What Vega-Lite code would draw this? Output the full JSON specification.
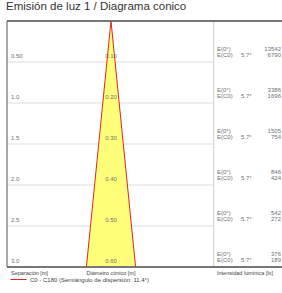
{
  "$schema": "https://vega.github.io/schema/vega-lite/v6.json",
  "width": 275,
  "height": 246,
  "autosize": {"type": "none"},
  "padding": {"left": 7, "top": 21, "right": 0, "bottom": 26},
  "background": "white",
  "title": {"text": "Emisión de luz 1 / Diagrama conico", "anchor": "start", "frame": "group", "offset": 7, "fontSize": 11.5, "fontWeight": "normal", "font": "Liberation Sans", "color": "#333333", "dx": -1},
  "config": {"view": {"stroke": null}, "text": {"font": "Liberation Sans"}},
  "datasets": {
    "rows": [
      {"d": 0.5, "dlabel": "0.50", "diam": "0.10", "e0": "13542", "ec0": "6790"},
      {"d": 1.0, "dlabel": "1.0", "diam": "0.20", "e0": "3386", "ec0": "1696"},
      {"d": 1.5, "dlabel": "1.5", "diam": "0.30", "e0": "1505", "ec0": "754"},
      {"d": 2.0, "dlabel": "2.0", "diam": "0.40", "e0": "846", "ec0": "424"},
      {"d": 2.5, "dlabel": "2.5", "diam": "0.50", "e0": "542", "ec0": "272"},
      {"d": 3.0, "dlabel": "3.0", "diam": "0.60", "e0": "376", "ec0": "189"}
    ],
    "cone": [
      {"d": 0, "xl": 0, "xr": 0},
      {"d": 3, "xl": -0.3, "xr": 0.3}
    ],
    "edges": [
      {"side": "izq", "d": 0, "x": 0},
      {"side": "izq", "d": 3, "x": -0.3},
      {"side": "der", "d": 0, "x": 0},
      {"side": "der", "d": 3, "x": 0.3}
    ]
  },
  "layer": [
    {
      "data": {"name": "rows"},
      "transform": [{"filter": "datum.d < 3"}],
      "mark": {"type": "rule", "color": "#dddddd", "strokeWidth": 1},
      "encoding": {
        "y": {"field": "d", "type": "quantitative", "axis": null, "scale": {"domain": [0, 3], "reverse": true, "nice": false, "zero": false}},
        "x": {"datum": -1.2683, "type": "quantitative", "axis": null, "scale": {"domain": [-1.2683, 2.0854], "nice": false, "zero": false}},
        "x2": {"datum": 1.2524}
      }
    },
    {
      "data": {"name": "cone"},
      "mark": {"type": "area", "orient": "horizontal", "color": "#ffff7a", "opacity": 1},
      "encoding": {
        "y": {"field": "d", "type": "quantitative", "axis": null, "scale": {"domain": [0, 3], "reverse": true, "nice": false, "zero": false}},
        "x": {"field": "xl", "type": "quantitative", "axis": null, "scale": {"domain": [-1.2683, 2.0854], "nice": false, "zero": false}},
        "x2": {"field": "xr"}
      }
    },
    {
      "data": {"values": [{"v": 1}]},
      "mark": {"type": "rule", "color": "#cccccc", "strokeWidth": 1},
      "encoding": {
        "x": {"datum": 1.2524, "type": "quantitative", "axis": null, "scale": {"domain": [-1.2683, 2.0854], "nice": false, "zero": false}},
        "y": {"datum": 0, "type": "quantitative", "axis": null, "scale": {"domain": [0, 3], "reverse": true, "nice": false, "zero": false}},
        "y2": {"datum": 3}
      }
    },
    {
      "data": {"values": [{"v": 1}]},
      "mark": {"type": "rule", "color": "#555555", "strokeWidth": 1},
      "encoding": {
        "x": {"datum": -1.2683, "type": "quantitative", "axis": null, "scale": {"domain": [-1.2683, 2.0854], "nice": false, "zero": false}},
        "y": {"datum": 0, "type": "quantitative", "axis": null, "scale": {"domain": [0, 3], "reverse": true, "nice": false, "zero": false}},
        "y2": {"datum": 3}
      }
    },
    {
      "data": {"values": [{"edge": 0}, {"edge": 3}]},
      "mark": {"type": "rule", "color": "#777777", "strokeWidth": 2},
      "encoding": {
        "y": {"field": "edge", "type": "quantitative", "axis": null, "scale": {"domain": [0, 3], "reverse": true, "nice": false, "zero": false}},
        "x": {"datum": -1.2683, "type": "quantitative", "axis": null, "scale": {"domain": [-1.2683, 2.0854], "nice": false, "zero": false}},
        "x2": {"datum": 2.0854}
      }
    },
    {
      "data": {"name": "edges"},
      "mark": {"type": "line", "strokeWidth": 1},
      "encoding": {
        "y": {"field": "d", "type": "quantitative", "axis": null, "scale": {"domain": [0, 3], "reverse": true, "nice": false, "zero": false}},
        "x": {"field": "x", "type": "quantitative", "axis": null, "scale": {"domain": [-1.2683, 2.0854], "nice": false, "zero": false}},
        "detail": {"field": "side"},
        "order": {"field": "d"},
        "color": {"datum": "C0 - C180 (Semiángulo de dispersión: 11.4°)", "scale": {"range": ["#e3261c"]},
          "legend": {"title": null, "orient": "none", "legendX": 3, "legendY": 250, "padding": 0, "symbolType": "stroke", "symbolSize": 256, "symbolStrokeWidth": 1, "labelFontSize": 6, "labelFont": "Liberation Sans", "labelColor": "#444444", "labelOffset": 3}}
      }
    },
    {
      "data": {"name": "rows"},
      "mark": {"type": "text", "align": "left", "baseline": "middle", "dy": -6, "fontSize": 6, "color": "#707070"},
      "encoding": {
        "y": {"field": "d", "type": "quantitative", "axis": null, "scale": {"domain": [0, 3], "reverse": true, "nice": false, "zero": false}},
        "x": {"datum": -1.2195, "type": "quantitative", "axis": null, "scale": {"domain": [-1.2683, 2.0854], "nice": false, "zero": false}},
        "text": {"field": "dlabel"}
      }
    },
    {
      "data": {"name": "rows"},
      "mark": {"type": "text", "align": "center", "baseline": "middle", "dy": -6, "fontSize": 6, "color": "#707070"},
      "encoding": {
        "y": {"field": "d", "type": "quantitative", "axis": null, "scale": {"domain": [0, 3], "reverse": true, "nice": false, "zero": false}},
        "x": {"datum": 0, "type": "quantitative", "axis": null, "scale": {"domain": [-1.2683, 2.0854], "nice": false, "zero": false}},
        "text": {"field": "diam"}
      }
    },
    {
      "data": {"name": "rows"},
      "mark": {"type": "text", "align": "left", "baseline": "middle", "dy": -13, "fontSize": 6, "color": "#707070"},
      "encoding": {
        "y": {"field": "d", "type": "quantitative", "axis": null, "scale": {"domain": [0, 3], "reverse": true, "nice": false, "zero": false}},
        "x": {"datum": 1.2927, "type": "quantitative", "axis": null, "scale": {"domain": [-1.2683, 2.0854], "nice": false, "zero": false}},
        "text": {"value": "E(0°)"}
      }
    },
    {
      "data": {"name": "rows"},
      "mark": {"type": "text", "align": "left", "baseline": "middle", "dy": -7, "fontSize": 6, "color": "#707070"},
      "encoding": {
        "y": {"field": "d", "type": "quantitative", "axis": null, "scale": {"domain": [0, 3], "reverse": true, "nice": false, "zero": false}},
        "x": {"datum": 1.2927, "type": "quantitative", "axis": null, "scale": {"domain": [-1.2683, 2.0854], "nice": false, "zero": false}},
        "text": {"value": "E(C0)"}
      }
    },
    {
      "data": {"name": "rows"},
      "mark": {"type": "text", "align": "left", "baseline": "middle", "dy": -7, "fontSize": 6, "color": "#707070"},
      "encoding": {
        "y": {"field": "d", "type": "quantitative", "axis": null, "scale": {"domain": [0, 3], "reverse": true, "nice": false, "zero": false}},
        "x": {"datum": 1.585, "type": "quantitative", "axis": null, "scale": {"domain": [-1.2683, 2.0854], "nice": false, "zero": false}},
        "text": {"value": "5.7°"}
      }
    },
    {
      "data": {"name": "rows"},
      "mark": {"type": "text", "align": "right", "baseline": "middle", "dy": -13, "fontSize": 6, "color": "#707070"},
      "encoding": {
        "y": {"field": "d", "type": "quantitative", "axis": null, "scale": {"domain": [0, 3], "reverse": true, "nice": false, "zero": false}},
        "x": {"datum": 2.073, "type": "quantitative", "axis": null, "scale": {"domain": [-1.2683, 2.0854], "nice": false, "zero": false}},
        "text": {"field": "e0"}
      }
    },
    {
      "data": {"name": "rows"},
      "mark": {"type": "text", "align": "right", "baseline": "middle", "dy": -7, "fontSize": 6, "color": "#707070"},
      "encoding": {
        "y": {"field": "d", "type": "quantitative", "axis": null, "scale": {"domain": [0, 3], "reverse": true, "nice": false, "zero": false}},
        "x": {"datum": 2.073, "type": "quantitative", "axis": null, "scale": {"domain": [-1.2683, 2.0854], "nice": false, "zero": false}},
        "text": {"field": "ec0"}
      }
    },
    {
      "data": {"values": [
        {"label": "Separación [m]", "pos": -1.2195},
        {"label": "Intensidad lumínica [lx]", "pos": 1.2927}
      ]},
      "mark": {"type": "text", "align": "left", "baseline": "middle", "dy": 6, "fontSize": 5.5, "color": "#444444"},
      "encoding": {
        "y": {"datum": 3, "type": "quantitative", "axis": null, "scale": {"domain": [0, 3], "reverse": true, "nice": false, "zero": false}},
        "x": {"field": "pos", "type": "quantitative", "axis": null, "scale": {"domain": [-1.2683, 2.0854], "nice": false, "zero": false}},
        "text": {"field": "label"}
      }
    },
    {
      "data": {"values": [{"label": "Diámetro cónico [m]"}]},
      "mark": {"type": "text", "align": "center", "baseline": "middle", "dy": 6, "fontSize": 5.5, "color": "#444444"},
      "encoding": {
        "y": {"datum": 3, "type": "quantitative", "axis": null, "scale": {"domain": [0, 3], "reverse": true, "nice": false, "zero": false}},
        "x": {"datum": 0, "type": "quantitative", "axis": null, "scale": {"domain": [-1.2683, 2.0854], "nice": false, "zero": false}},
        "text": {"field": "label"}
      }
    }
  ]
}
